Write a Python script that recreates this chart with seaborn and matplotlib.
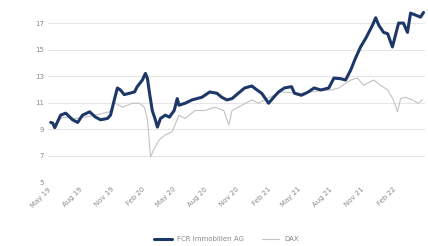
import pandas as pd
import numpy as np
import matplotlib
matplotlib.use('Agg')
import matplotlib.pyplot as plt
import seaborn as sns
from matplotlib.lines import Line2D

# values
fcr_dates = ['2019-05-09', '2019-05-15', '2019-05-21', '2019-06-07', '2019-06-22', '2019-07-12',
             '2019-07-27', '2019-08-10', '2019-08-31', '2019-09-17', '2019-10-02', '2019-10-22',
             '2019-10-31', '2019-11-11', '2019-11-20', '2019-11-29', '2019-12-10', '2019-12-25',
             '2020-01-09', '2020-01-17', '2020-02-01', '2020-02-10', '2020-02-16', '2020-02-22',
             '2020-03-01', '2020-03-10', '2020-03-16', '2020-03-25', '2020-04-08', '2020-04-20',
             '2020-05-04', '2020-05-13', '2020-05-18', '2020-06-05', '2020-06-25', '2020-07-24',
             '2020-08-16', '2020-09-06', '2020-09-20', '2020-10-05', '2020-10-20', '2020-11-12',
             '2020-11-26', '2020-12-17', '2021-01-01', '2021-01-15', '2021-02-04', '2021-02-19',
             '2021-03-05', '2021-03-22', '2021-04-12', '2021-04-21', '2021-05-11', '2021-05-31',
             '2021-06-17', '2021-07-07', '2021-07-30', '2021-08-14', '2021-09-03', '2021-09-17',
             '2021-10-02', '2021-10-16', '2021-10-31', '2021-11-15', '2021-11-24', '2021-12-05',
             '2021-12-14', '2021-12-23', '2022-01-06', '2022-01-18', '2022-02-01', '2022-02-10',
             '2022-02-19', '2022-03-05', '2022-03-17', '2022-03-26', '2022-04-10', '2022-04-24',
             '2022-05-03']
fcr_values = [9.5, 9.45, 9.1, 10.05, 10.2, 9.7,
              9.5, 10.05, 10.3, 9.9, 9.7, 9.8,
              10.05, 11.2, 12.1, 11.95, 11.6, 11.7,
              11.8, 12.2, 12.7, 13.2, 12.8, 11.7,
              10.4, 9.7, 9.15, 9.8, 10.05, 9.9,
              10.4, 11.3, 10.8, 10.95, 11.2, 11.4,
              11.8, 11.7, 11.4, 11.2, 11.3, 11.8,
              12.1, 12.25, 11.95, 11.7, 10.95, 11.4,
              11.8, 12.1, 12.2, 11.7, 11.55, 11.8,
              12.1, 11.95, 12.1, 12.85, 12.8, 12.7,
              13.45, 14.35, 15.2, 15.85, 16.3, 16.85,
              17.4, 16.85, 16.3, 16.2, 15.2, 16.1,
              17.0, 17.0, 16.3, 17.75, 17.6, 17.45,
              17.8]

dax_dates = ['2019-05-09', '2019-05-21', '2019-06-13', '2019-07-21', '2019-09-08', '2019-10-28',
             '2019-11-11', '2019-12-05', '2020-01-03', '2020-01-23', '2020-02-07', '2020-02-16',
             '2020-02-25', '2020-03-07', '2020-03-22', '2020-04-08', '2020-04-28', '2020-05-18',
             '2020-06-05', '2020-07-04', '2020-08-02', '2020-08-31', '2020-09-26', '2020-10-11',
             '2020-10-20', '2020-11-18', '2020-12-17', '2021-01-06', '2021-01-29', '2021-03-14',
             '2021-05-11', '2021-07-07', '2021-08-05', '2021-08-28', '2021-10-02', '2021-10-22',
             '2021-11-09', '2021-12-08', '2021-12-29', '2022-01-18', '2022-02-04', '2022-02-16',
             '2022-02-25', '2022-03-11', '2022-04-01', '2022-04-16', '2022-04-30']
dax_values = [9.5, 9.3, 9.9, 9.8, 10.0, 10.3,
              11.0, 10.65, 10.95, 10.95, 10.65, 9.7,
              6.9, 7.55, 8.2, 8.55, 8.8, 10.05,
              9.8, 10.4, 10.4, 10.65, 10.4, 9.3,
              10.4, 10.8, 11.2, 10.95, 11.3, 11.8,
              11.7, 11.9, 11.95, 12.1, 12.7, 12.85,
              12.3, 12.7, 12.3, 11.95, 11.2, 10.3,
              11.3, 11.4, 11.2, 10.95, 11.2]

tick_labels = ['May 19', 'Aug 19', 'Nov 19', 'Feb 20', 'May 20', 'Aug 20',
               'Nov 20', 'Feb 21', 'May 21', 'Aug 21', 'Nov 21', 'Feb 22']
tick_dates = ['2019-05-01', '2019-08-01', '2019-11-01', '2020-02-01', '2020-05-01', '2020-08-01',
              '2020-11-01', '2021-02-01', '2021-05-01', '2021-08-01', '2021-11-01', '2022-02-01']
y_ticks = [5, 7, 9, 11, 13, 15, 17]

BLUE = '#1d3769'
GREY = '#c2c2c2'

fcr = pd.DataFrame({'date': pd.to_datetime(fcr_dates), 'value': fcr_values})
dax = pd.DataFrame({'date': pd.to_datetime(dax_dates), 'value': dax_values})

sns.set_style('white')
fig = plt.figure(figsize=(4.28, 2.46), dpi=100)
ax = fig.add_axes([0.112, 0.26, 0.88, 0.70])

for y in y_ticks:
    ax.axhline(y, color='#e6e6e6', linewidth=0.8, zorder=0)

sns.lineplot(data=dax, x='date', y='value', ax=ax, color=GREY, linewidth=0.8, zorder=2)
sns.lineplot(data=fcr, x='date', y='value', ax=ax, color=BLUE, linewidth=2.2, zorder=3)

ax.set_ylim(5, 18)
ax.set_yticks(y_ticks)
ax.set_xlim(pd.Timestamp('2019-05-09'), pd.Timestamp('2022-05-06'))
ax.set_xticks(pd.to_datetime(tick_dates))
ax.set_xticklabels(tick_labels, rotation=45, ha='right', rotation_mode='anchor')
ax.tick_params(axis='both', labelsize=5, colors='#8a8a8a', length=0, pad=3)
ax.set_xlabel('')
ax.set_ylabel('')
for s in ax.spines.values():
    s.set_visible(False)

handles = [Line2D([], [], color=BLUE, linewidth=2.2),
           Line2D([], [], color=GREY, linewidth=0.8)]
fig.legend(handles, ['FCR Immobilien AG', 'DAX'], loc='lower center',
           bbox_to_anchor=(0.53, -0.01), ncol=2, frameon=False, fontsize=5,
           handlelength=2.5, columnspacing=2.5, labelcolor='#8a8a8a')

fig.savefig('out.png', dpi=100)
